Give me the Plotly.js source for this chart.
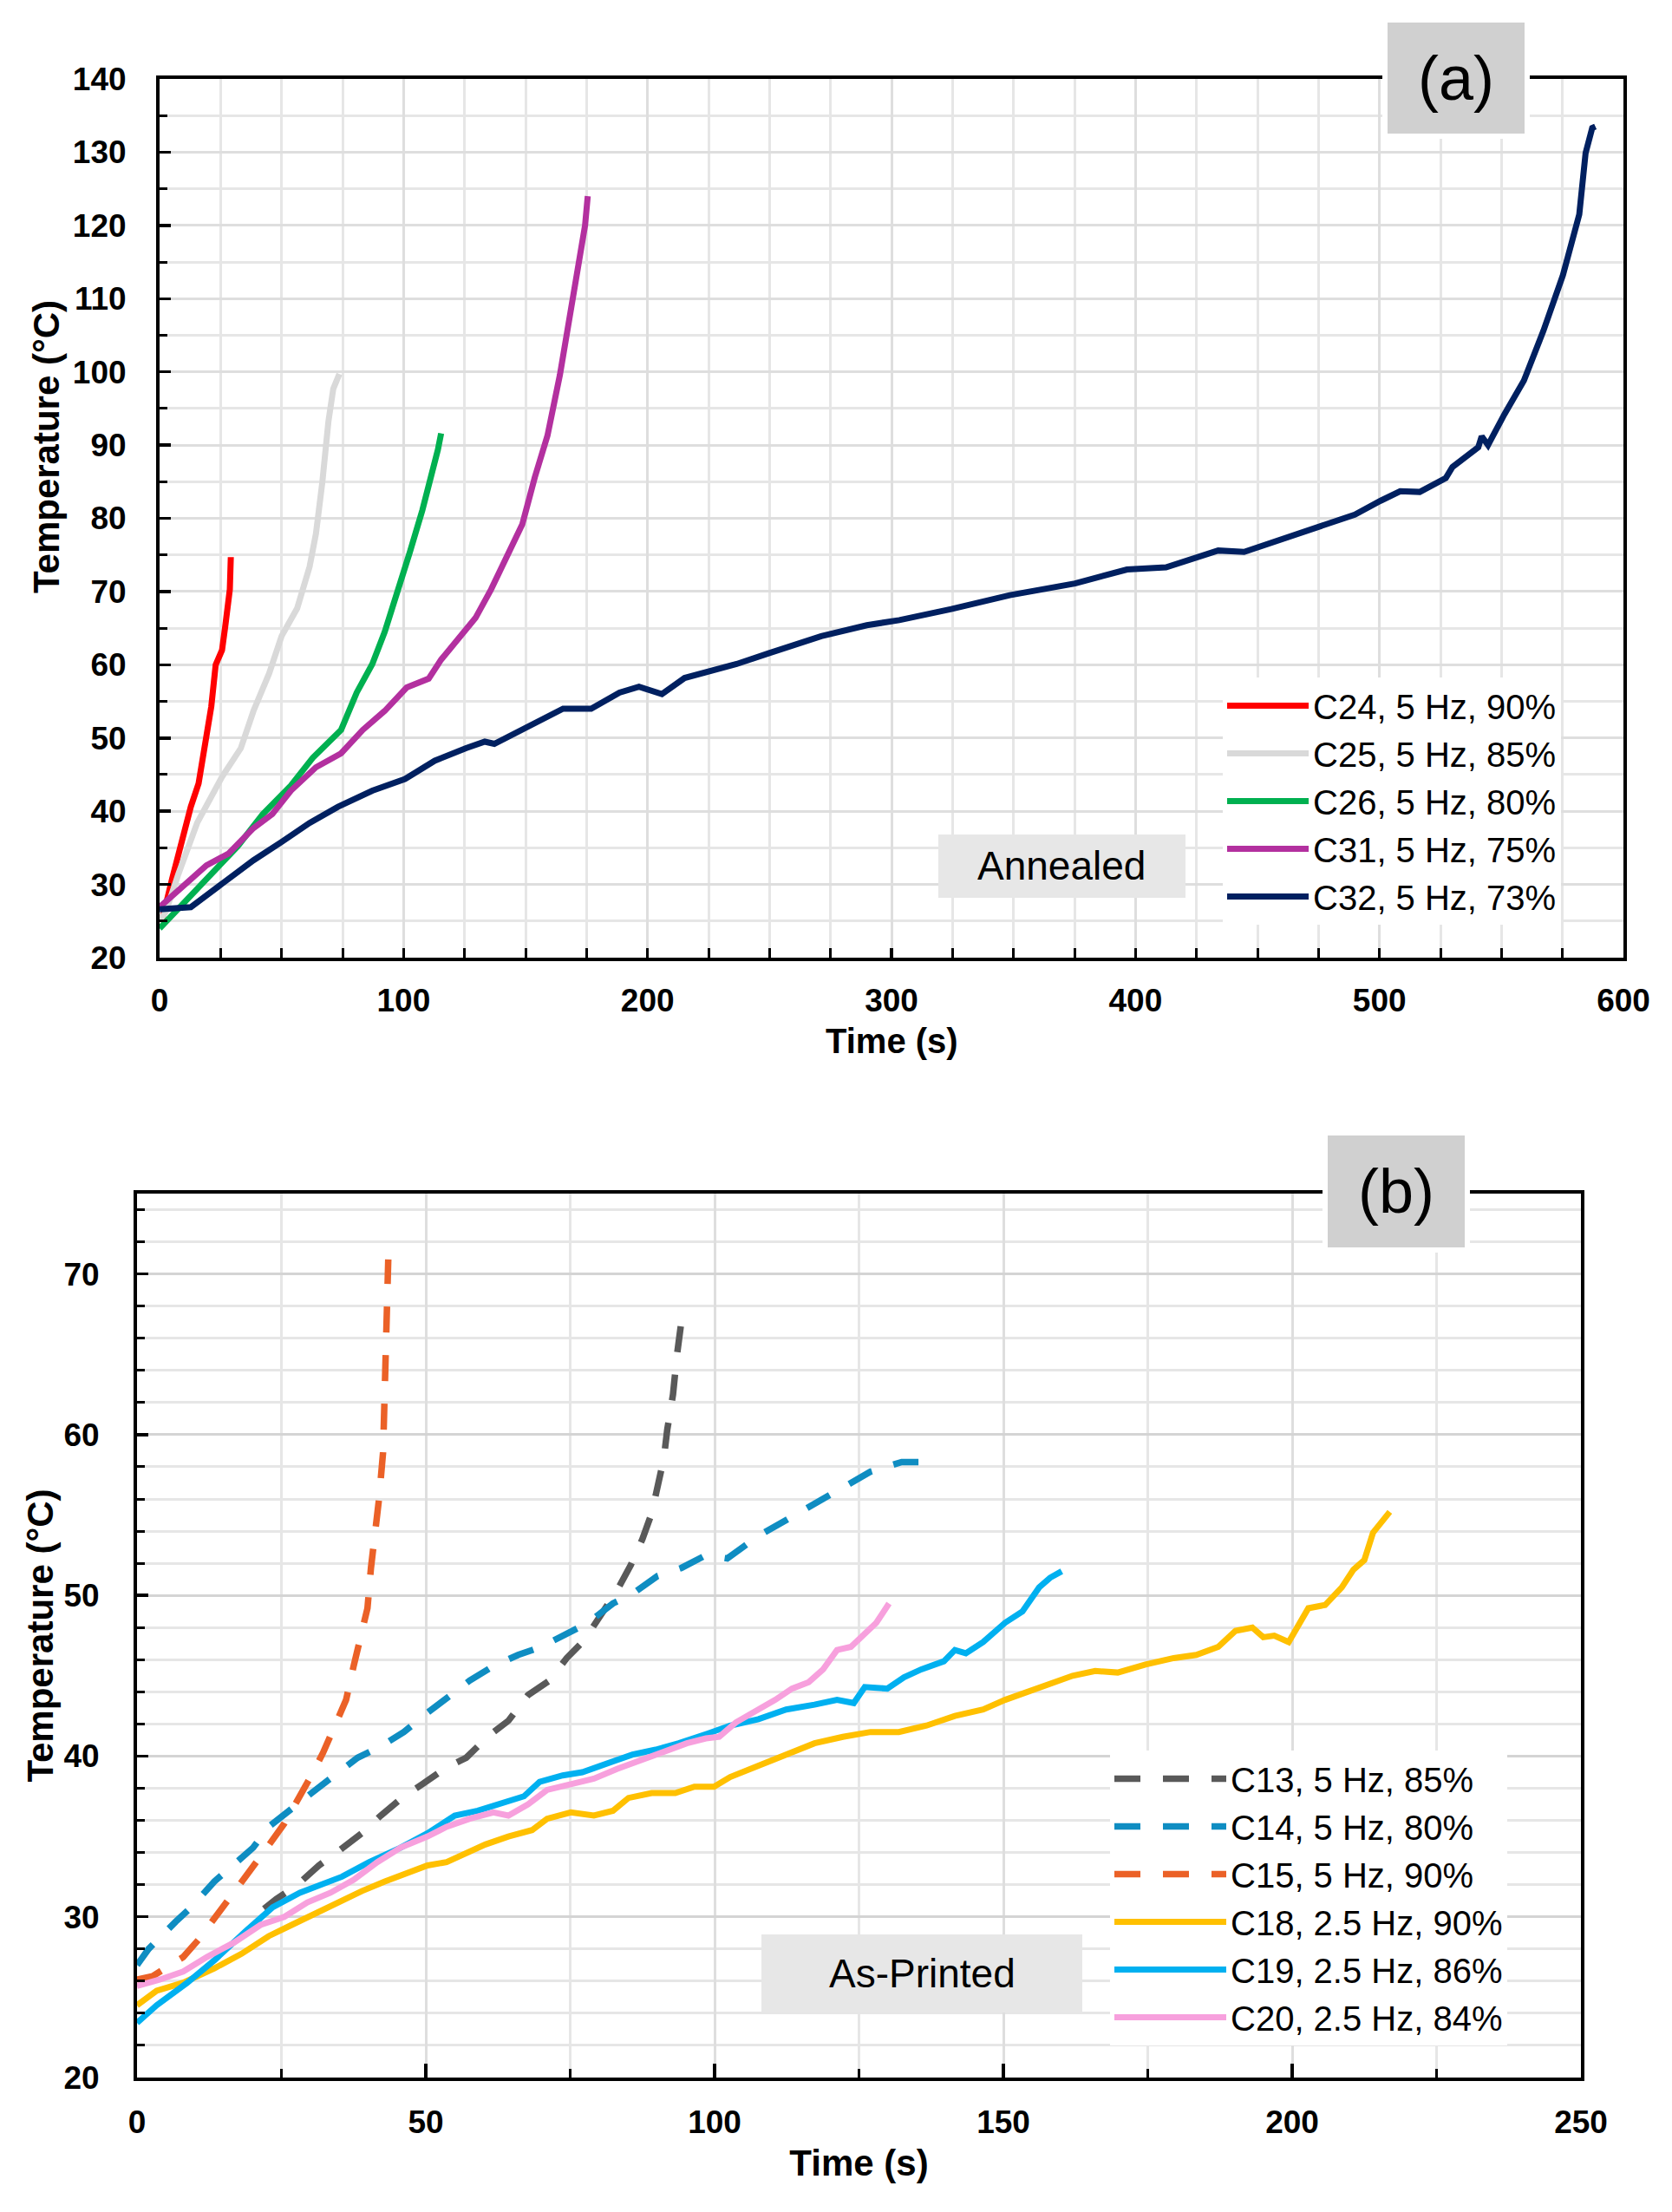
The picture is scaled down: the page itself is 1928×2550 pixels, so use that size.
<!DOCTYPE html>
<html>
<head>
<meta charset="utf-8">
<script src="https://cdn.plot.ly/plotly-3.0.1.min.js"></script>
<style>
  html, body { margin: 0; padding: 0; background: #fff; }
  #chart { width: 1928px; height: 2550px; }
</style>
</head>
<body>
<div id="chart"></div>
<script>
// ---- panel (a): annealed ----
const c24Time = [0, 1.3, 5.1, 9, 12.8, 16, 19.2, 21.2, 23, 25.6, 26.9, 28.8, 29.2];
const c24Temp = [25, 25.5, 30.7, 35.8, 40.6, 43.8, 49.9, 54.3, 60, 62, 65.2, 70.3, 74.7];

const c25Time = [0, 2.6, 7.7, 15.4, 25.6, 33.3, 38.5, 44.9, 50, 56.4, 61.5, 64.1, 66.7, 69.2, 71.2, 73.7];
const c25Temp = [25, 26.3, 31.4, 38.4, 44.7, 48.6, 53.7, 58.8, 63.9, 67.7, 73.4, 77.9, 84.9, 93.2, 97.7, 99.7];

const c26Time = [0, 6.4, 19.2, 32, 42.3, 53.8, 62.8, 74.4, 80.8, 87.2, 92.3, 97.4, 102.6, 107.7, 111.5, 114.1, 115.4];
const c26Temp = [24, 26.3, 30.7, 35.2, 39.6, 43.5, 47.3, 51.1, 56.2, 60.1, 64.5, 69.6, 75.4, 81.1, 85.6, 89.4, 91.6];

const c31Time = [0, 6.4, 19.2, 28.2, 38.5, 46.2, 53.8, 64.1, 74.4, 83.3, 92.3, 101.3, 110.3, 115.4, 123.1, 129.5,
                 135.9, 142.3, 148.7, 153.8, 159, 164.1, 167.9, 171.8, 174.4, 175.5];
const c31Temp = [26.9, 28.8, 32.6, 34.2, 37.7, 39.6, 42.8, 46, 47.9, 51.1, 53.7, 56.9, 58.1, 60.7, 63.9, 66.4,
                 70.3, 74.7, 79.2, 85.6, 91.3, 99.6, 107.3, 114.9, 120, 124];

const c32Time = [0, 12.8, 25.6, 38.5, 50, 61.5, 73.1, 87.2, 100.6, 112.8, 125.6, 133.3, 137.2, 150, 165.4, 176.9,
                 188.5, 196.5, 205.9, 215.2, 236.5, 249.9, 271.2, 289.9, 303.2, 324.5, 348.5, 375.2, 396.5, 412.5,
                 433.9, 444.5, 463.2, 476.5, 489.9, 500.5, 508.5, 516.5, 527.2, 529.9, 540.5, 541.9, 544.5, 551.2,
                 559.2, 567.2, 575.2, 581.9, 584.5, 587.2, 588.5];
const c32Temp = [26.6, 26.9, 30.1, 33.3, 35.8, 38.4, 40.6, 42.8, 44.4, 46.9, 48.6, 49.5, 49.2, 51.4, 54, 54,
                 56.2, 57, 56, 58.2, 60.1, 61.6, 63.9, 65.4, 66.1, 67.6, 69.5, 71.1, 73, 73.3,
                 75.6, 75.4, 77.5, 79, 80.5, 82.4, 83.7, 83.6, 85.5, 87, 89.7, 91.2, 90, 94.2,
                 98.8, 105.6, 113.2, 121.5, 129.9, 133.3, 133.5];

// ---- panel (b): as-printed ----
const c13Time = [22, 24.1, 27.8, 31.5, 34.9, 38.9, 42.2, 46.2, 49.6, 53.6, 57, 61, 64.3, 67.7, 71.4, 74.4, 77.4,
                 80.4, 83.1, 85.5, 87.5, 89.1, 90.1, 91.2, 91.8, 92.8, 93.5, 94.2];
const c13Temp = [30.5, 31.1, 32, 33.2, 34.1, 35.2, 36.3, 37.5, 38.3, 39.3, 39.9, 41.3, 42.2, 43.8, 44.7, 46.1, 47.2,
                 48.8, 50.3, 51.9, 53.5, 55.1, 56.7, 58.5, 60.3, 62.5, 65, 66.9];

const c14Time = [0, 2, 6.7, 9.4, 13.4, 16.1, 20.1, 22.8, 26.8, 30.2, 34.9, 38.2, 42.2, 46.2, 50.3, 53.6, 57.6,
                 61.7, 66, 70, 74.1, 78.1, 82.4, 85.8, 90.1, 94.2, 98.5, 102.2, 107.6, 110.5, 115.4, 118.8,
                 123.6, 127, 132.4, 135.3];
const c14Temp = [27, 28, 29.7, 30.6, 32.2, 33.1, 34.3, 35.6, 36.8, 37.7, 39, 39.9, 40.6, 41.5, 42.7, 43.6, 44.7,
                 45.6, 46.3, 46.8, 47.6, 48.3, 49.5, 50.1, 51.2, 51.7, 52.5, 52.3, 53.7, 54.3, 55.4, 56.1,
                 57, 57.7, 58.3, 58.3];

const c15Time = [0, 2.7, 4, 8, 10.7, 14.1, 16.8, 20.1, 22.1, 25.5, 27.5, 30.2, 32.2, 34.5, 36.2, 37.5, 38.5,
                 39.9, 40.5, 41.2, 41.9, 42.6, 42.9, 43.1, 43.4, 43.5];
const c15Temp = [26.1, 26.3, 26.6, 27.5, 28.6, 30.2, 31.6, 33.1, 34.1, 35.8, 37, 38.8, 40.2, 42, 43.5, 45.6, 47,
                 49.2, 51.7, 53.5, 56, 58.9, 62.5, 66, 68.5, 70.9];

const c18Time = [0, 3.4, 8, 13.4, 18.1, 22.8, 26.8, 30.8, 34.9, 38.9, 42.9, 46.9, 50.3, 53.6, 57, 60.3, 64.3,
                 68.4, 71, 75.1, 79.1, 82.4, 85.1, 89.1, 93.2, 96.5, 99.9, 102.7, 107.6, 112.4, 117.3, 122.2,
                 127, 131.9, 136.7, 141.6, 146.5, 150.3, 154.2, 158.1, 162, 165.9, 169.8, 174.6, 179.5, 183.4,
                 187.2, 190.2, 193.1, 195, 196.9, 199.4, 200.9, 202.8, 205.7, 208.6, 210.6, 212.5, 214, 215.5, 216.9];
const c18Temp = [24.5, 25.4, 25.9, 26.8, 27.7, 28.8, 29.5, 30.2, 30.9, 31.6, 32.2, 32.7, 33.2, 33.4, 34, 34.5, 35,
                 35.4, 36.1, 36.5, 36.3, 36.6, 37.4, 37.7, 37.7, 38.1, 38.1, 38.7, 39.4, 40.1, 40.8, 41.2,
                 41.5, 41.5, 41.9, 42.5, 42.9, 43.5, 44, 44.6, 45, 45.3, 45.2, 45.7, 46.1, 46.3,
                 46.8, 47.8, 48, 47.4, 47.5, 47.1, 48, 49.2, 49.4, 50.5, 51.6, 52.2, 53.9, 54.5, 55.2];

const c19Time = [0, 3.4, 8.7, 13.4, 18.8, 23.5, 28.2, 32.2, 35.5, 40.2, 45.6, 50.3, 55, 59, 62.3, 67, 69.7,
                 73.7, 77.1, 81.1, 85.8, 89.8, 93.8, 98.8, 102.7, 107.6, 112.4, 117.3, 121.2, 124.1, 126,
                 129.9, 132.8, 135.8, 139.7, 141.6, 143.5, 146.5, 148.4, 150.3, 153.3, 156.2, 158.1, 160.1];
const c19Temp = [23.4, 24.5, 25.9, 27.3, 29.1, 30.6, 31.5, 32, 32.5, 33.4, 34.3, 35.2, 36.3, 36.6, 37, 37.5, 38.4,
                 38.8, 39, 39.5, 40.1, 40.4, 40.8, 41.4, 41.9, 42.3, 42.9, 43.2, 43.5, 43.3, 44.3,
                 44.2, 44.9, 45.4, 45.9, 46.6, 46.4, 47.1, 47.7, 48.3, 49, 50.5, 51.1, 51.5];

const c20Time = [0, 4, 8, 12.1, 16.8, 21.4, 25.5, 29.5, 33.5, 37.5, 41.6, 45.6, 50.3, 53.6, 57.6, 61.7, 64.3,
                 67.7, 71, 75.1, 79.1, 83.1, 87.1, 91.2, 95.2, 98.5, 100.8, 103.7, 107.6, 110.5, 113.4,
                 116.3, 118.8, 121.2, 123.6, 125.6, 128, 130.2];
const c20Temp = [25.7, 26.1, 26.6, 27.5, 28.4, 29.5, 30, 30.9, 31.5, 32.3, 33.4, 34.3, 35, 35.6, 36.1, 36.5, 36.3,
                 37, 37.9, 38.3, 38.6, 39.2, 39.7, 40.2, 40.8, 41.1, 41.2, 42.1, 42.9, 43.5, 44.2,
                 44.6, 45.4, 46.6, 46.8, 47.5, 48.3, 49.5];

const W = 1928, H = 2550;
const px = v => v / W;          // pixel column -> paper x
const py = v => 1 - v / H;      // pixel row -> paper y

const SANS = "'Liberation Sans', Arial, sans-serif";

function line(name, x, y, color, legend, xa, ya, dash) {
    return {
        name: name, x: x, y: y,
        type: "scatter", mode: "lines",
        xaxis: xa, yaxis: ya, legend: legend,
        line: { color: color, width: dash ? 7.5 : 7, dash: dash || "solid" }
    };
}

const longDash = "30px,26px";

const data = [
    line("C24, 5 Hz, 90%", c24Time, c24Temp, "#ff0000", "legend", "x", "y"),
    line("C25, 5 Hz, 85%", c25Time, c25Temp, "#d9d9d9", "legend", "x", "y"),
    line("C26, 5 Hz, 80%", c26Time, c26Temp, "#00b050", "legend", "x", "y"),
    line("C31, 5 Hz, 75%", c31Time, c31Temp, "#b3309f", "legend", "x", "y"),
    line("C32, 5 Hz, 73%", c32Time, c32Temp, "#002060", "legend", "x", "y"),

    line("C13, 5 Hz, 85%", c13Time, c13Temp, "#595959", "legend2", "x2", "y2", longDash),
    line("C14, 5 Hz, 80%", c14Time, c14Temp, "#0f8dc2", "legend2", "x2", "y2", longDash),
    line("C15, 5 Hz, 90%", c15Time, c15Temp, "#eb6127", "legend2", "x2", "y2", longDash),
    line("C18, 2.5 Hz, 90%", c18Time, c18Temp, "#ffc000", "legend2", "x2", "y2"),
    line("C19, 2.5 Hz, 86%", c19Time, c19Temp, "#00b0f0", "legend2", "x2", "y2"),
    line("C20, 2.5 Hz, 84%", c20Time, c20Temp, "#f7a0dd", "legend2", "x2", "y2")
];

function axis(o) {
    return Object.assign({
        showline: true, linecolor: "#000", linewidth: 4, mirror: true,
        ticks: "inside", tickcolor: "#000", tickwidth: 3.5, ticklen: 13,
        showgrid: true, gridcolor: "#dedede", gridwidth: 3, zeroline: false,
        tickfont: { family: SANS, size: 37, color: "#000", weight: "bold" },
        fixedrange: true
    }, o);
}

function minor(dtick, len) {
    return { dtick: dtick, ticks: "inside", ticklen: len, tickwidth: 3, tickcolor: "#000",
             showgrid: true, gridcolor: "#e6e6e6", gridwidth: 3 };
}

const titleFont = { family: SANS, size: 42, color: "#000", weight: "bold" };
const xTitleFontA = { family: SANS, size: 40, color: "#000", weight: "bold" };
const legendFont = { family: SANS, size: 40, color: "#000" };

function box(x0, x1, y0, y1, fill, edge) {
    return {
        type: "rect", xref: "paper", yref: "paper", layer: "above",
        x0: px(x0), x1: px(x1), y0: py(y1), y1: py(y0),
        fillcolor: fill,
        line: edge ? { color: "#fff", width: 6 } : { width: 0 }
    };
}

function label(text, x, y, size, font) {
    return {
        text: text, xref: "paper", yref: "paper", x: px(x), y: py(y),
        xanchor: "center", yanchor: "middle", showarrow: false,
        font: font || { family: SANS, size: size, color: "#000" }
    };
}

const layout = {
    width: W, height: H,
    margin: { l: 0, r: 0, t: 0, b: 0 },
    paper_bgcolor: "#fff", plot_bgcolor: "#fff",
    showlegend: true,

    xaxis: axis({
        domain: [px(184), px(1872)], anchor: "y", range: [0, 600], dtick: 100, ticklen: 11,
        minor: minor(25, 11), ticklabelstandoff: 14
    }),
    yaxis: axis({
        domain: [py(1104), py(91)], anchor: "x", range: [20, 140], dtick: 10,
        minor: minor(5, 9), ticklabelstandoff: 27
    }),
    xaxis2: axis({
        domain: [px(158), px(1823)], anchor: "y2", range: [0, 250], dtick: 50, ticklen: 16,
        minor: minor(25, 10), ticklabelstandoff: 16,
        title: { text: "Time (s)", font: titleFont, standoff: 13 }
    }),
    yaxis2: axis({
        domain: [py(2395), py(1376)], anchor: "x2", range: [20, 75], dtick: 10,
        minor: minor(2, 9), ticklabelstandoff: 32, gridcolor: "#d4d4d4",
        title: { text: "Temperature (°C)", font: titleFont, standoff: 0 }
    }),

    legend: {
        x: px(1410), y: py(781), xanchor: "left", yanchor: "top",
        bgcolor: "#fff", borderwidth: 0, font: legendFont,
        itemwidth: 94, tracegroupgap: 0, traceorder: "normal"
    },
    legend2: {
        x: px(1280), y: py(2018), xanchor: "left", yanchor: "top",
        bgcolor: "#fff", borderwidth: 0, font: legendFont,
        itemwidth: 129, tracegroupgap: 0, traceorder: "normal"
    },

    shapes: [
        box(1597, 1761, 23, 157, "#d0d0d0", true),
        box(1528, 1692, 1306, 1441, "#d0d0d0", true),
        box(1082, 1367, 962, 1035, "#e7e7e7"),
        box(878, 1248, 2230, 2320, "#e7e7e7")
    ],

    annotations: [
        label("(a)", 1679, 90, 72),
        label("(b)", 1610, 1373, 72),
        label("Annealed", 1224, 998, 46),
        label("As-Printed", 1063, 2275, 46),
        label("Time (s)", 1028, 1200, 0, xTitleFontA),
        {
            text: "Temperature (°C)", xref: "paper", yref: "paper",
            x: px(54), y: py(515), xanchor: "center", yanchor: "middle",
            textangle: -90, showarrow: false, font: titleFont
        }
    ]
};

Plotly.newPlot("chart", data, layout, { displayModeBar: false, staticPlot: true });
</script>
</body>
</html>
